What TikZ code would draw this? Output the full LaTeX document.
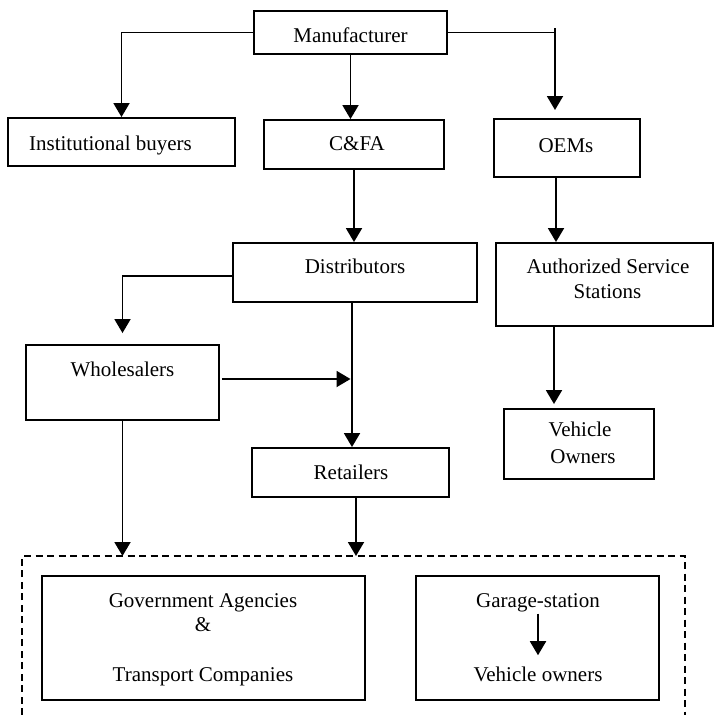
\documentclass[tikz,border=0pt]{standalone}
\usepackage{fontspec}
\setmainfont{Liberation Serif}
\usetikzlibrary{arrows.meta}
\begin{document}
\begin{tikzpicture}[x=1pt,y=-1pt,
  box/.style={draw, line width=1.9pt, rectangle, inner sep=0pt},
  lbl/.style={inner sep=0pt, anchor=base, font=\fontsize{21}{25}\selectfont},
  conn/.style={line width=1.9pt, -{Triangle[width=16pt,length=14pt]}},
  plain/.style={line width=1.9pt},
  dashbox/.style={line width=1.9pt, dash pattern=on 7pt off 4.5pt}]
\useasboundingbox (0,0) rectangle (715,715);
% boxes
\node[box, minimum width=193pt, minimum height=43pt] (man) at (350.5,32.5) {};
\node[box, minimum width=227pt, minimum height=48pt] (inst) at (121.5,142) {};
\node[box, minimum width=180pt, minimum height=49pt] (cfa) at (354,144.5) {};
\node[box, minimum width=146pt, minimum height=58pt] (oem) at (567,148) {};
\node[box, minimum width=244pt, minimum height=59pt] (dist) at (355,272.5) {};
\node[box, minimum width=217pt, minimum height=83pt] (ass) at (604.5,284.5) {};
\node[box, minimum width=193pt, minimum height=75pt] (wh) at (122.5,382.5) {};
\node[box, minimum width=150pt, minimum height=70pt] (vo) at (579,444) {};
\node[box, minimum width=197pt, minimum height=49pt] (ret) at (350.5,472.5) {};
\node[box, minimum width=323pt, minimum height=124pt] (gov) at (203.5,638) {};
\node[box, minimum width=243pt, minimum height=124pt] (gar) at (537.5,638) {};
% texts
\node[lbl] (tman) at (350.5,42) {Manufacturer};
\node[lbl] (tinst) at (110.5,150) {Institutional buyers};
\node[lbl] (tcfa) at (357,150) {C\&FA};
\node[lbl] (toem) at (566,152) {OEMs};
\node[lbl] (tdist) at (355,273) {Distributors};
\node[lbl] (tass1) at (608,273) {Authorized Service};
\node[lbl] (tass2) at (607.5,298) {Stations};
\node[lbl] (twh) at (122.5,376) {Wholesalers};
\node[lbl] (tvo1) at (580,436) {Vehicle};
\node[lbl] (tvo2) at (583,463) {Owners};
\node[lbl] (tret) at (351,479) {Retailers};
\node[lbl] (tgov1) at (203,607) {Government Agencies};
\node[lbl] (tgov2) at (203,631) {\&};
\node[lbl] (tgov3) at (203,681) {Transport Companies};
\node[lbl] (tgs) at (538,607) {Garage-station};
\node[lbl] (tvo3) at (538,681) {Vehicle owners};
% dashed enclosure
\coordinate (dtop) at (0,556);
\coordinate (dl) at (22,715);
\coordinate (dr) at (685,715);
\draw[dashbox] (dl) -- (dl |- dtop) -- (dr |- dtop) -- (dr);
% connectors
\draw[conn] (man.west) -| (inst.north);
\draw[conn] (man.south) -- (man.south |- cfa.north);
\coordinate (mo) at (555,32.5);
\coordinate (motick) at (555,28);
\coordinate (oemin) at (555,110);
\draw[plain] (man.east) -- (mo);
\draw[conn] (motick) -- (oemin);
\draw[conn] ([xshift=-11pt]oem.south) -- ([xshift=-11pt]oem.south |- ass.north);
\draw[conn] (cfa.south) -- (cfa.south |- dist.north);
\draw[conn] ([yshift=-3.5pt]dist.west) -| ([yshift=11pt]wh.north);
\draw[conn] ([xshift=-3pt]dist.south) -- ([xshift=-3pt]dist.south |- ret.north);
\draw[conn] ([yshift=3.5pt,xshift=2pt]wh.east) -- ([yshift=3.5pt]wh.east -| ret.north);
\draw[conn] ([xshift=-50.5pt]ass.south) -- ([xshift=-50.5pt,yshift=4pt]ass.south |- vo.north);
\draw[conn] (wh.south) -- (wh.south |- dtop);
\draw[conn] ([xshift=5.5pt]ret.south) -- ([xshift=5.5pt]ret.south |- dtop);
\draw[conn, shorten <=2pt, shorten >=11pt] (tgs.south) -- (tvo3.north);
\end{tikzpicture}
\end{document}
